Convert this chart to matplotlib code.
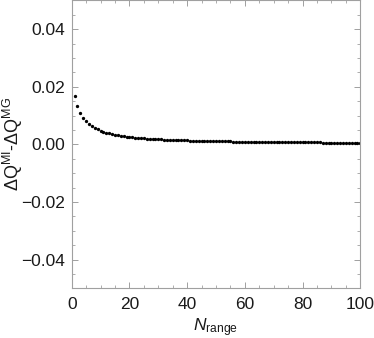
import numpy as np
import matplotlib.pyplot as plt
from matplotlib.ticker import MultipleLocator

plt.rcParams['font.family'] = ['Liberation Sans', 'DejaVu Sans']
plt.rcParams['mathtext.fontset'] = 'custom'
plt.rcParams['mathtext.rm'] = 'Liberation Sans'
plt.rcParams['mathtext.it'] = 'Liberation Sans:italic'

# N = 1..100, difference values
n_range = list(range(1, 101))
dq_diff = [
    0.0169, 0.0134, 0.0110, 0.0093, 0.0080, 0.0070, 0.0063, 0.0057, 0.0052, 0.0048,
    0.0044, 0.0041, 0.0038, 0.0036, 0.0034, 0.0032, 0.0030, 0.0028, 0.0027, 0.0026,
    0.00245, 0.00235, 0.00225, 0.00215, 0.00207, 0.00200, 0.00193, 0.00187, 0.00181, 0.00175,
    0.00170, 0.00165, 0.00160, 0.00156, 0.00152, 0.00148, 0.00144, 0.00141, 0.00138, 0.00135,
    0.00132, 0.00129, 0.00126, 0.00123, 0.00120, 0.00118, 0.00116, 0.00114, 0.00112, 0.00110,
    0.00108, 0.00106, 0.00104, 0.00102, 0.00100, 0.00098, 0.00096, 0.00095, 0.00093, 0.00092,
    0.00090, 0.00089, 0.00087, 0.00086, 0.00085, 0.00083, 0.00082, 0.00081, 0.00080, 0.00079,
    0.00078, 0.00077, 0.00076, 0.00075, 0.00074, 0.00073, 0.00072, 0.00071, 0.00070, 0.00069,
    0.00068, 0.00067, 0.00066, 0.00066, 0.00065, 0.00064, 0.00063, 0.00063, 0.00062, 0.00061,
    0.00060, 0.00060, 0.00059, 0.00058, 0.00058, 0.00057, 0.00056, 0.00056, 0.00055, 0.00055,
]

fig = plt.figure(figsize=(3.74, 3.38), dpi=100)
ax = fig.add_axes([0.1917, 0.147, 0.7717, 0.852])

ax.plot(n_range, dq_diff, 'o', color='black', ms=2.4, mew=0)

ax.set_xlim(0, 100)
ax.set_ylim(-0.05, 0.05)
ax.xaxis.set_major_locator(MultipleLocator(20))
ax.xaxis.set_minor_locator(MultipleLocator(5))
ax.yaxis.set_major_locator(MultipleLocator(0.02))
ax.yaxis.set_minor_locator(MultipleLocator(0.005))
ax.yaxis.set_major_formatter(plt.FuncFormatter(lambda v, p: f"{v:.2f}".replace('-', '\u2212')))

frame = '#a0a0a0'
for s in ax.spines.values():
    s.set_color(frame)
    s.set_linewidth(0.8)
ax.tick_params(which='both', direction='in', top=True, right=True, color=frame,
               labelsize=12.5, labelcolor='#1a1a1a')
ax.tick_params(which='major', length=4, width=0.7)
ax.tick_params(which='minor', length=2, width=0.6)
ax.tick_params(axis='x', pad=6)
ax.tick_params(axis='y', pad=5)

ax.set_xlabel(r'$\it{N}_{\rm range}$', fontsize=12.5, color='#1a1a1a')
ax.xaxis.set_label_coords(0.5, -0.096)
ax.set_ylabel(r'$\Delta$Q$^{\rm MI}$-$\Delta$Q$^{\rm MG}$', fontsize=13, color='#1a1a1a')
ax.yaxis.set_label_coords(-0.163, 0.5)

fig.savefig('out.png', dpi=100)
